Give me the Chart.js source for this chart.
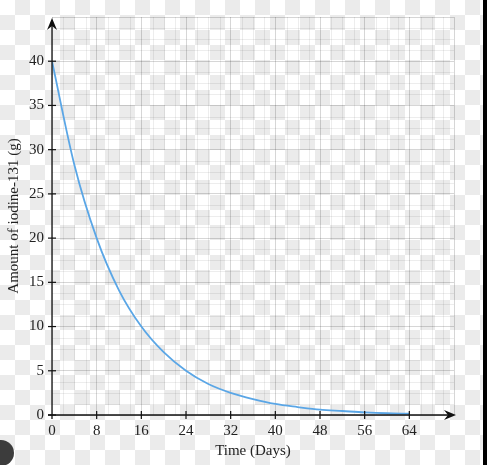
<!DOCTYPE html>
<html>
<head>
<meta charset="utf-8">
<script src="https://cdn.jsdelivr.net/npm/chart.js@4"></script>
<style>
  html, body { margin: 0; padding: 0; }
  body {
    width: 487px; height: 465px; overflow: hidden; position: relative;
    background-color: #ffffff;
    background-image: conic-gradient(#ebebeb 25%, transparent 0 50%, #ebebeb 0 75%, transparent 0);
    background-size: 30px 30px;
  }
  #chart { position: absolute; left: 0; top: 0; }
  .edge { position: absolute; right: 0; top: 0; width: 4px; height: 465px; background: #000; }
  .blob { position: absolute; left: -12px; top: 440px; width: 26px; height: 26px; border-radius: 50%; background: #3c3c3c; }
</style>
</head>
<body>
<canvas id="chart" width="487" height="465"></canvas>
<div class="edge"></div>
<div class="blob"></div>
<script>
// 數值
const days   = [0, 4, 8, 12, 16, 20, 24, 28, 32, 36, 40, 44, 48, 52, 56, 60, 64];
const amount = [40, 28.3, 20, 14.1, 10, 7.1, 5, 3.5, 2.5, 1.8, 1.25, 0.9, 0.6, 0.45, 0.3, 0.2, 0.15];

const xTicks = [0, 8, 16, 24, 32, 40, 48, 56, 64];
const yTicks = [0, 5, 10, 15, 20, 25, 30, 35, 40];

const X_MAX = 72;
const Y_MAX = 45;
const serif = "'Liberation Serif', 'DejaVu Serif', serif";

// 細格線 + 座標軸箭頭
const axesPlugin = {
  id: 'axesPlugin',
  beforeDraw(chart) {
    const { ctx, chartArea: a, scales: { x, y } } = chart;
    ctx.save();
    ctx.strokeStyle = 'rgba(0,0,0,0.07)';
    ctx.lineWidth = 1;
    for (let v = 2; v < X_MAX; v += 2) {
      if (v % 8 === 0) continue;
      const px = Math.round(x.getPixelForValue(v)) + 0.5;
      ctx.beginPath(); ctx.moveTo(px, a.top); ctx.lineTo(px, a.bottom); ctx.stroke();
    }
    for (let v = 1.25; v < Y_MAX; v += 1.25) {
      if (v % 5 === 0) continue;
      const py = Math.round(y.getPixelForValue(v)) + 0.5;
      ctx.beginPath(); ctx.moveTo(a.left, py); ctx.lineTo(a.right, py); ctx.stroke();
    }
    ctx.restore();
  },
  afterDraw(chart) {
    const { ctx, chartArea: a, scales: { x, y } } = chart;
    const ox = x.getPixelForValue(0);
    const oy = y.getPixelForValue(0);
    ctx.save();
    ctx.strokeStyle = '#111';
    ctx.fillStyle = '#111';
    ctx.lineWidth = 1.3;
    // x 軸
    ctx.beginPath(); ctx.moveTo(ox - 4, oy); ctx.lineTo(a.right - 4, oy); ctx.stroke();
    // y 軸
    ctx.beginPath(); ctx.moveTo(ox, oy + 4); ctx.lineTo(ox, a.top + 6); ctx.stroke();
    // 箭頭
    const tipX = a.right + 2, tipY = a.top + 1;
    ctx.beginPath();
    ctx.moveTo(tipX, oy); ctx.lineTo(tipX - 12, oy - 5); ctx.lineTo(tipX - 8, oy);
    ctx.lineTo(tipX - 12, oy + 5); ctx.closePath(); ctx.fill();
    ctx.beginPath();
    ctx.moveTo(ox, tipY); ctx.lineTo(ox - 5, tipY + 12); ctx.lineTo(ox, tipY + 8);
    ctx.lineTo(ox + 5, tipY + 12); ctx.closePath(); ctx.fill();
    // 刻度
    ctx.lineWidth = 1.2;
    xTicks.forEach(v => {
      if (v === 0) return;
      const px = x.getPixelForValue(v);
      ctx.beginPath(); ctx.moveTo(px, oy - 4); ctx.lineTo(px, oy + 4); ctx.stroke();
    });
    yTicks.forEach(v => {
      const py = y.getPixelForValue(v);
      ctx.beginPath(); ctx.moveTo(ox - 4, py); ctx.lineTo(ox + 4, py); ctx.stroke();
    });
    ctx.restore();
  }
};

new Chart(document.getElementById('chart'), {
  type: 'line',
  data: {
    datasets: [{
      data: days.map((d, i) => ({ x: d, y: amount[i] })),
      borderColor: '#5aa6e6',
      borderWidth: 1.8,
      pointRadius: 0,
      cubicInterpolationMode: 'monotone',
      fill: false
    }]
  },
  options: {
    responsive: false,
    animation: false,
    layout: { padding: { left: 0, top: 15, right: 33, bottom: 0 } },
    plugins: { legend: { display: false }, tooltip: { enabled: false } },
    scales: {
      x: {
        type: 'linear', min: 0, max: X_MAX,
        afterFit: s => { s.height = 50; },
        afterBuildTicks: s => { s.ticks = xTicks.concat([X_MAX]).map(v => ({ value: v })); },
        ticks: {
          padding: 7, color: '#222', maxRotation: 0,
          font: { family: serif, size: 15 },
          callback: v => (v === X_MAX ? '' : v)
        },
        grid: { color: 'rgba(0,0,0,0.16)', drawTicks: false },
        border: { display: false },
        title: {
          display: true, text: 'Time (Days)', color: '#222',
          font: { family: serif, size: 15 }, padding: { top: 0, bottom: 5 }
        }
      },
      y: {
        type: 'linear', min: 0, max: Y_MAX,
        afterFit: s => { s.width = 52; },
        afterBuildTicks: s => { s.ticks = yTicks.concat([Y_MAX]).map(v => ({ value: v })); },
        ticks: {
          padding: 8, color: '#222',
          font: { family: serif, size: 15 },
          callback: v => (v === Y_MAX ? '' : v)
        },
        grid: { color: 'rgba(0,0,0,0.16)', drawTicks: false },
        border: { display: false },
        title: {
          display: true, text: 'Amount of iodine-131 (g)', color: '#222',
          font: { family: serif, size: 15 }, padding: { top: 5, bottom: 0 }
        }
      }
    }
  },
  plugins: [axesPlugin]
});
</script>
</body>
</html>
